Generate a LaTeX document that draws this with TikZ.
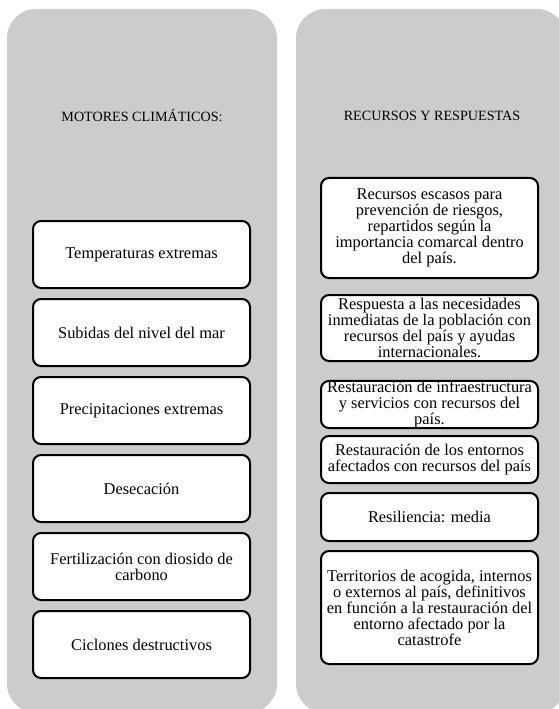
\documentclass[tikz,border=0pt]{standalone}
\usepackage{fontspec}
\setmainfont{Liberation Serif}
\usetikzlibrary{positioning}
\definecolor{panel grey}{HTML}{CCCCCC}
\tikzset{
    panel/.style={fill=panel grey, rounded corners=22pt},
    itembox/.style={draw, line width=1.5pt, fill=white, rounded corners=6pt,
        align=center, inner sep=1pt, minimum width=162.75pt,
        font=\fontsize{12.3}{12}\selectfont},
    paneltitle/.style={font=\fontsize{10.6}{12}\selectfont}
}

\begin{document}
\begin{tikzpicture}[x=0.75pt, y=-0.75pt]
        \useasboundingbox (0, 0) rectangle (559, 709);
        \clip (0, 0) rectangle (559, 709);
        % panels
        \fill[panel] (7, 9) rectangle (277, 713);
        \fill[panel] (296, 9) rectangle (566, 713);
        \node[paneltitle] (motores) at (142, 116) {MOTORES CLIMÁTICOS:};
        \node[paneltitle] (recursos) at (432, 116) {RECURSOS Y RESPUESTAS};
        % left column
        \foreach \txt [count=\i from 0] in {Temperaturas extremas,
                Subidas del nivel del mar, Precipitaciones extremas, Desecación,
                {Fertilización con diosido de\\carbono}, Ciclones destructivos} {
            \node[itembox, minimum height=50.25pt] (motor\i) at (141.5, 254.5+78*\i) {\txt};
        }
        % right column
        \node[itembox, minimum height=75pt] (prevencion) at (429.5, 228)
            {Recursos escasos para\\prevención de riesgos,\\repartidos según la\\importancia comarcal dentro\\del país.};
        \node[itembox, minimum height=49.5pt] (respuesta) at (429.5, 328)
            {Respuesta a las necesidades\\inmediatas de la población con\\recursos del país y ayudas\\internacionales.};
        \node[itembox, minimum height=35.25pt, inner sep=0pt] (infra) at (429.5, 404.5)
            {Restauración de infraestructura\\y servicios con recursos del\\país.};
        \node[itembox, minimum height=35.25pt] (entornos) at (429.5, 459.5)
            {Restauración de los entornos\\afectados con recursos del país};
        \node[itembox, minimum height=36pt] (resiliencia) at (429.5, 517)
            {Resiliencia: media};
        \node[itembox, minimum height=84.75pt] (acogida) at (429.5, 607.5)
            {Territorios de acogida, internos\\o externos al país, definitivos\\en función a la restauración del\\entorno afectado por la\\catastrofe};
    \end{tikzpicture}
\end{document}
